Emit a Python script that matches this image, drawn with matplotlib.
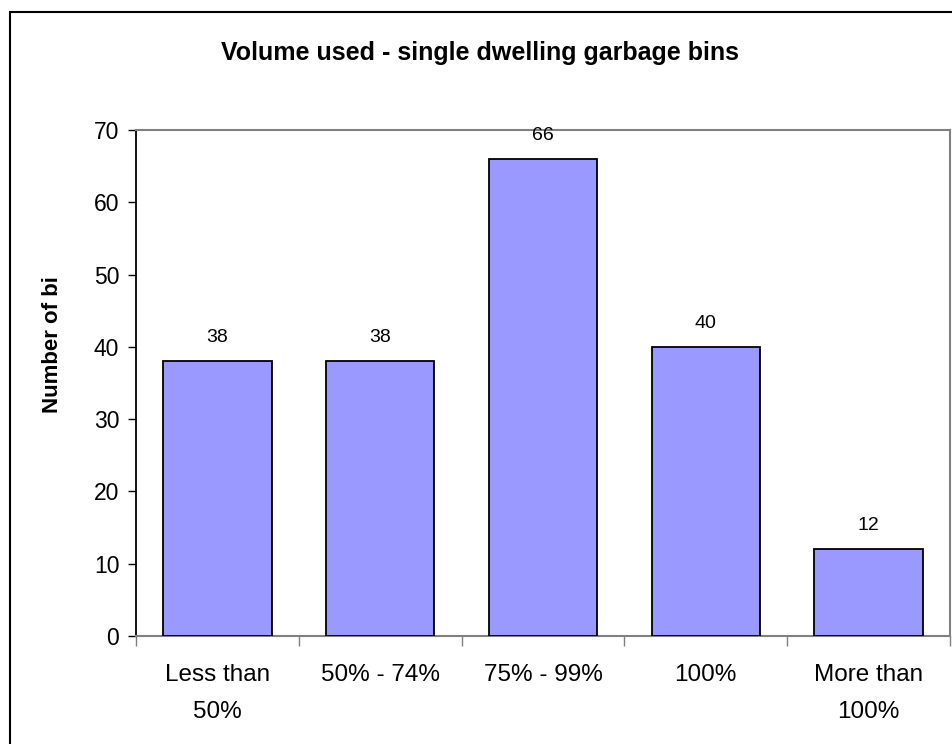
import matplotlib.pyplot as plt
from matplotlib.patches import Rectangle

BAR_COLOR = "#9999FF"
GREY = "#808080"
BLACK = "#000000"

plt.rcParams['font.family'] = ['Liberation Sans', 'DejaVu Sans']

categories = ["Less than\n50%", "50% - 74%", "75% - 99%", "100%", "More than\n100%"]
values = [38, 38, 66, 40, 12]
y_ticks = [0, 10, 20, 30, 40, 50, 60, 70]

W, H = 953, 744
fig = plt.figure(figsize=(W / 100, H / 100), dpi=100)

# outer chart frame (runs off the page on the right and bottom)
fig.patches.append(Rectangle((10 / W, -0.1), 1.2, 1 - 12 / H + 0.1, transform=fig.transFigure,
                             fill=False, edgecolor=BLACK, linewidth=1.5))

ax = fig.add_axes([136 / W, 1 - 636 / H, (950 - 136) / W, (636 - 130) / H])

xs = [i + 0.5 for i in range(len(values))]
ax.bar(xs, values, width=0.665, color=BAR_COLOR, edgecolor=BLACK, linewidth=1.3, zorder=3)

for x, v in zip(xs, values):
    ax.text(x, v + 3.3, str(v), ha='center', va='center', fontsize=14)

ax.set_xlim(0, len(values))
ax.set_ylim(0, 70)
ax.set_yticks(y_ticks)
ax.tick_params(axis='y', direction='out', length=6, width=1, pad=6, labelsize=16.5)

# category ticks between bars, labels in the middle
ax.set_xticks(range(len(values) + 1))
ax.set_xticklabels([])
ax.set_xticks(xs, minor=True)
ax.set_xticklabels(categories, minor=True, fontsize=17.5, linespacing=1.9)
ax.tick_params(axis='x', which='major', direction='out', length=7, width=1, color=GREY)
ax.tick_params(axis='x', which='minor', length=0, pad=20)

for side in ['top', 'right']:
    ax.spines[side].set_color(GREY)
    ax.spines[side].set_linewidth(1.5)
ax.spines['left'].set_color(BLACK)
ax.spines['left'].set_linewidth(1.3)
ax.spines['bottom'].set_color(GREY)
ax.spines['bottom'].set_linewidth(1.5)

fig.text(480 / W, 1 - 53 / H, "Volume used - single dwelling garbage bins",
         ha='center', va='center', fontsize=18, fontweight='bold')
fig.text(52 / W, 1 - 345 / H, "Number of bi", rotation=90,
         ha='center', va='center', fontsize=16, fontweight='bold')

fig.savefig("out.png", dpi=100)
